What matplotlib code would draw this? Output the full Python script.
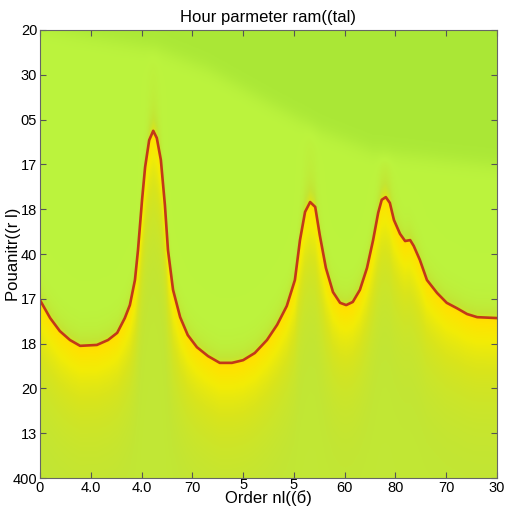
import numpy as np
import matplotlib
matplotlib.use("Agg")
import matplotlib.pyplot as plt
from matplotlib.colors import LinearSegmentedColormap
from matplotlib.transforms import ScaledTranslation

plt.rcParams['font.family'] = ['Liberation Sans', 'DejaVu Sans']

# curve (x in tick units 0..9, y in tick units 0..10 from bottom)
curve_x = [0.00, 0.20, 0.39, 0.59, 0.79, 1.12, 1.34, 1.52, 1.67, 1.77, 1.87, 1.93,
           2.01, 2.07, 2.15, 2.23, 2.30, 2.38, 2.46, 2.52, 2.62, 2.76, 2.91, 3.09,
           3.31, 3.54, 3.78, 4.00, 4.23, 4.47, 4.67, 4.86, 5.02, 5.12, 5.22, 5.32,
           5.42, 5.51, 5.63, 5.77, 5.91, 6.03, 6.16, 6.30, 6.44, 6.56, 6.66, 6.73,
           6.81, 6.89, 6.97, 7.09, 7.19, 7.29, 7.36, 7.48, 7.62, 7.82, 8.01, 8.21,
           8.41, 8.61, 9.00]
curve_y = [3.97, 3.57, 3.28, 3.08, 2.95, 2.97, 3.08, 3.24, 3.57, 3.86, 4.42, 5.09,
           6.21, 6.94, 7.54, 7.75, 7.59, 7.10, 6.09, 5.09, 4.20, 3.59, 3.19, 2.92,
           2.72, 2.57, 2.57, 2.63, 2.79, 3.08, 3.42, 3.84, 4.42, 5.31, 5.94, 6.16,
           6.05, 5.42, 4.69, 4.15, 3.91, 3.86, 3.93, 4.20, 4.69, 5.31, 5.92, 6.21,
           6.27, 6.14, 5.76, 5.45, 5.29, 5.31, 5.18, 4.87, 4.42, 4.13, 3.91, 3.79,
           3.66, 3.59, 3.57]

# edge of the darker green band in the upper right
band_x = [0.0, 0.98, 2.30, 3.29, 4.59, 5.57, 6.56, 9.0]
band_y = [10.1, 9.87, 9.60, 9.15, 8.33, 7.74, 7.30, 6.98]
peaks_x = [2.23, 5.32, 6.81]

x_ticks = ['0', '4.0', '4.0', '70', '5', '5', '60', '80', '70', '30']
y_ticks = ['20', '30', '05', '17', '18', '40', '17', '18', '20', '13', '400']

cmap = LinearSegmentedColormap.from_list(
    'lime_yellow', [(0.0, '#a4e334'), (0.3, '#bcf43e'), (0.45, '#c2e634'),
                    (0.6, '#d8e41c'), (0.75, '#f2ec06'), (0.9, '#ffe200'), (1.0, '#ffd600')])

gx = np.linspace(0, 9, 450)
gy = np.linspace(0, 10, 500)
X, Y = np.meshgrid(gx, gy)
yc = np.interp(X, curve_x, curve_y)
yb = np.interp(X, band_x, band_y)
d = yc - Y

field = np.where(d > 0,
                 0.43 + 0.53 * np.exp(-d / 1.1),
                 0.30 + 0.25 * np.exp(d / 0.25))
# soft haze above the peaks
glow = np.exp(-((X[:, :, None] - np.array(peaks_x)) ** 2) / 0.03).max(axis=2)
field = np.where(d <= 0, field + 0.12 * glow * np.exp(d / 1.0), field)
# darker band in the top right
band = 1 / (1 + np.exp(-(Y - yb) / 0.12))
field = field * (1 - band) + 0.08 * band

fig = plt.figure(figsize=(5.12, 5.12), dpi=100)
ax = fig.add_axes([40 / 512, 34 / 512, 457 / 512, 448 / 512])
ax.imshow(field, origin='lower', extent=[0, 9, 0, 10], aspect='auto',
          cmap=cmap, vmin=0, vmax=1, interpolation='bilinear')
ax.plot(curve_x, curve_y, color='#c23818', lw=1.9, solid_joinstyle='round')

ax.set_xlim(0, 9)
ax.set_ylim(0, 10)
ax.set_xticks(range(10))
ax.set_xticklabels(x_ticks)
ax.set_yticks(range(10, -1, -1))
ax.set_yticklabels(y_ticks)
ax.tick_params(direction='in', top=True, right=True, length=4, labelsize=10.5,
               color='#555555', pad=2)
for s in ax.spines.values():
    s.set_color('#666666')

# the two '5' labels sit a little higher, above the axis title
for lab in ax.get_xticklabels()[4:6]:
    lab.set_transform(lab.get_transform() + ScaledTranslation(0, 2 / 72, fig.dpi_scale_trans))

ax.set_title('Hour parmeter ram((tal)', fontsize=12, pad=6)
ax.set_xlabel('Order nl((б)', fontsize=12, labelpad=-3)
ax.set_ylabel('Pouanitr((r l)', fontsize=12, labelpad=-6)

fig.savefig('out.png', dpi=100)
